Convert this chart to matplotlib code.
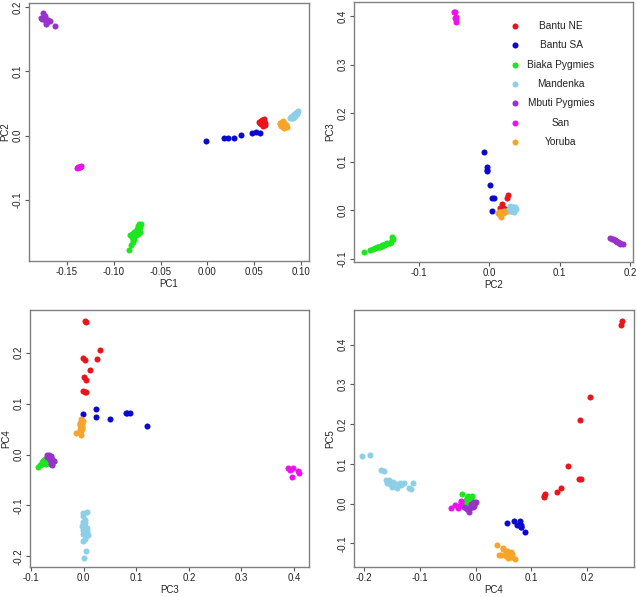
import matplotlib
matplotlib.use("Agg")
import matplotlib.pyplot as plt

plt.rcParams['font.family'] = ['Liberation Sans', 'DejaVu Sans']
plt.rcParams['axes.unicode_minus'] = False

populations = ["Bantu NE", "Bantu SA", "Biaka Pygmies", "Mandenka",
               "Mbuti Pygmies", "San", "Yoruba"]
pop_colors = ["#e8161a", "#0a0acd", "#1ee61e", "#8ecfe8",
              "#9932cc", "#ee10ee", "#f7a42a"]

# PC scores per population, one entry per individual
bantu_ne_pc1 = [0.057, 0.059, 0.060, 0.058, 0.056, 0.061, 0.057, 0.060, 0.062, 0.055, 0.059, 0.058]
bantu_ne_pc2 = [0.022, 0.018, 0.026, 0.025, 0.020, 0.016, 0.018, 0.023, 0.019, 0.021, 0.015, 0.020]
bantu_ne_pc3 = [0.002, 0.005, 0.032, 0.026, -0.001, 0.003, 0.012, 0.001, 0.004, -0.001, 0.005, 0.003]
bantu_ne_pc4 = [0.262, 0.261, 0.205, 0.187, 0.189, 0.185, 0.166, 0.153, 0.146, 0.124, 0.122, 0.122]
bantu_ne_pc5 = [0.460, 0.450, 0.267, 0.210, 0.062, 0.061, 0.095, 0.039, 0.029, 0.025, 0.016, 0.018]

bantu_sa_pc1 = [-0.002, 0.018, 0.022, 0.028, 0.036, 0.048, 0.052, 0.056]
bantu_sa_pc2 = [-0.008, -0.003, -0.003, -0.003, 0.001, 0.004, 0.006, 0.004]
bantu_sa_pc3 = [0.120, 0.088, 0.083, 0.080, 0.051, 0.024, 0.024, -0.002]
bantu_sa_pc4 = [0.056, 0.081, 0.082, 0.082, 0.069, 0.074, 0.089, 0.079]
bantu_sa_pc5 = [-0.049, -0.058, -0.055, -0.060, -0.043, -0.055, -0.072, -0.045]

biaka_pc1 = [-0.084, -0.082, -0.079, -0.080, -0.078, -0.081, -0.079, -0.083, -0.076, -0.081,
             -0.074, -0.078, -0.072, -0.076, -0.073, -0.075, -0.072, -0.074, -0.071, -0.073]
biaka_pc2 = [-0.178, -0.170, -0.165, -0.162, -0.160, -0.158, -0.157, -0.155, -0.154, -0.152,
             -0.152, -0.150, -0.150, -0.148, -0.147, -0.145, -0.142, -0.140, -0.138, -0.137]
biaka_pc3 = [-0.087, -0.083, -0.080, -0.079, -0.077, -0.076, -0.076, -0.075, -0.074, -0.073,
             -0.072, -0.072, -0.071, -0.070, -0.069, -0.068, -0.067, -0.066, -0.056, -0.060]
biaka_pc4 = [-0.024, -0.020, -0.018, -0.015, -0.013, -0.016, -0.012, -0.010, -0.014, -0.009,
             -0.011, -0.018, -0.008, -0.012, -0.006, -0.015, -0.010, -0.013, -0.012, -0.019]
biaka_pc5 = [0.025, 0.005, 0.010, 0.015, 0.000, 0.008, 0.012, 0.004, 0.018, 0.006,
             0.010, 0.002, 0.014, 0.008, 0.020, 0.003, 0.011, 0.007, 0.016, 0.001]

mandenka_pc1 = [0.088, 0.089, 0.090, 0.090, 0.091, 0.092, 0.092, 0.093, 0.093, 0.094,
                0.094, 0.095, 0.095, 0.096, 0.096, 0.097, 0.091, 0.094, 0.096]
mandenka_pc2 = [0.027, 0.029, 0.028, 0.031, 0.030, 0.029, 0.032, 0.031, 0.033, 0.032,
                0.034, 0.033, 0.035, 0.036, 0.034, 0.038, 0.027, 0.030, 0.037]
mandenka_pc3 = [0.000, 0.005, -0.001, 0.002, 0.004, 0.008, -0.002, 0.003, 0.007, -0.001,
                0.006, 0.002, -0.003, 0.003, -0.002, 0.002, -0.002, -0.001, 0.006]
mandenka_pc4 = [-0.203, -0.190, -0.170, -0.165, -0.160, -0.158, -0.155, -0.153, -0.150, -0.148,
                -0.145, -0.142, -0.140, -0.135, -0.133, -0.128, -0.120, -0.115, -0.112]
mandenka_pc5 = [0.120, 0.122, 0.085, 0.081, 0.060, 0.053, 0.060, 0.050, 0.042, 0.055,
                0.045, 0.050, 0.040, 0.053, 0.046, 0.052, 0.040, 0.037, 0.052]

mbuti_pc1 = [-0.178, -0.176, -0.175, -0.174, -0.172, -0.172, -0.170, -0.168, -0.163, -0.177,
             -0.173, -0.171, -0.174]
mbuti_pc2 = [0.183, 0.190, 0.185, 0.180, 0.178, 0.174, 0.180, 0.178, 0.171, 0.181,
             0.183, 0.176, 0.186]
mbuti_pc3 = [-0.066, -0.070, -0.068, -0.064, -0.062, -0.060, -0.063, -0.061, -0.057, -0.065,
             -0.066, -0.060, -0.069]
mbuti_pc4 = [-0.002, 0.000, -0.005, -0.010, -0.018, -0.008, -0.003, -0.015, -0.012, -0.006,
             -0.001, -0.020, -0.004]
mbuti_pc5 = [-0.005, 0.003, -0.008, -0.012, -0.010, 0.000, 0.004, -0.013, -0.020, -0.003,
             0.002, -0.008, -0.006]

san_pc1 = [-0.139, -0.137, -0.136, -0.135, -0.138, -0.136]
san_pc2 = [-0.050, -0.049, -0.048, -0.047, -0.049, -0.048]
san_pc3 = [0.408, 0.397, 0.393, 0.388, 0.409, 0.398]
san_pc4 = [-0.032, -0.044, -0.030, -0.027, -0.037, -0.027]
san_pc5 = [-0.010, -0.010, -0.006, 0.004, -0.003, 0.006]

yoruba_pc1 = [0.078, 0.080, 0.082, 0.084, 0.079, 0.081, 0.083, 0.085, 0.077, 0.080,
              0.082, 0.084, 0.079, 0.081, 0.083, 0.080]
yoruba_pc2 = [0.018, 0.020, 0.019, 0.017, 0.015, 0.014, 0.016, 0.013, 0.019, 0.021,
              0.012, 0.016, 0.018, 0.022, 0.015, 0.017]
yoruba_pc3 = [-0.005, -0.002, -0.004, -0.006, -0.003, -0.007, -0.005, -0.004, -0.006, -0.003,
              -0.005, -0.015, -0.005, -0.004, -0.006, -0.003]
yoruba_pc4 = [0.070, 0.066, 0.065, 0.062, 0.060, 0.058, 0.057, 0.054, 0.050, 0.050,
              0.046, 0.042, 0.038, 0.063, 0.059, 0.055]
yoruba_pc5 = [-0.140, -0.135, -0.128, -0.135, -0.130, -0.138, -0.120, -0.125, -0.115, -0.112,
              -0.130, -0.130, -0.105, -0.122, -0.127, -0.133]

pcs = {
    "Bantu NE": [bantu_ne_pc1, bantu_ne_pc2, bantu_ne_pc3, bantu_ne_pc4, bantu_ne_pc5],
    "Bantu SA": [bantu_sa_pc1, bantu_sa_pc2, bantu_sa_pc3, bantu_sa_pc4, bantu_sa_pc5],
    "Biaka Pygmies": [biaka_pc1, biaka_pc2, biaka_pc3, biaka_pc4, biaka_pc5],
    "Mandenka": [mandenka_pc1, mandenka_pc2, mandenka_pc3, mandenka_pc4, mandenka_pc5],
    "Mbuti Pygmies": [mbuti_pc1, mbuti_pc2, mbuti_pc3, mbuti_pc4, mbuti_pc5],
    "San": [san_pc1, san_pc2, san_pc3, san_pc4, san_pc5],
    "Yoruba": [yoruba_pc1, yoruba_pc2, yoruba_pc3, yoruba_pc4, yoruba_pc5],
}

# (x pc, y pc, axes rect, xlim, ylim, xticks, yticks, x fmt)
panels = [
    (0, 1, [0.0455, 0.5628, 0.4396, 0.4322], (-0.1906, 0.1085), (-0.1947, 0.206),
     [-0.15, -0.10, -0.05, 0.00, 0.05, 0.10], [-0.1, 0.0, 0.1, 0.2], "%.2f"),
    (1, 2, [0.5557, 0.5611, 0.4380, 0.4355], (-0.1925, 0.204), (-0.107, 0.429),
     [-0.1, 0.0, 0.1, 0.2], [-0.1, 0.0, 0.1, 0.2, 0.3, 0.4], "%.1f"),
    (2, 3, [0.0471, 0.0500, 0.4380, 0.4310], (-0.102, 0.4285), (-0.221, 0.284),
     [-0.1, 0.0, 0.1, 0.2, 0.3, 0.4], [-0.2, -0.1, 0.0, 0.1, 0.2], "%.1f"),
    (3, 4, [0.5557, 0.0500, 0.4396, 0.4310], (-0.218, 0.284), (-0.16, 0.4875),
     [-0.2, -0.1, 0.0, 0.1, 0.2], [-0.1, 0.0, 0.1, 0.2, 0.3, 0.4], "%.1f"),
]

fig = plt.figure(figsize=(6.37, 5.97), dpi=100)

axes = []
for xi, yi, rect, xl, yl, xt, yt, xfmt in panels:
    ax = fig.add_axes(rect)
    for pop, col in zip(populations, pop_colors):
        ax.scatter(pcs[pop][xi], pcs[pop][yi], s=19, color=col, linewidths=0, zorder=3)
    ax.set_xlim(xl)
    ax.set_ylim(yl)
    ax.set_xticks(xt)
    ax.set_xticklabels([xfmt % v for v in xt])
    ax.set_yticks(yt)
    ax.set_yticklabels(["%.1f" % v for v in yt], rotation=90, va="center")
    ax.tick_params(labelsize=7, length=3, width=0.8, color="#555555", pad=1.5,
                   labelcolor="#222222")
    for sp in ax.spines.values():
        sp.set_color("#808080")
        sp.set_linewidth(1.0)
    ax.set_xlabel("PC%d" % (xi + 1), fontsize=7, color="#222222", labelpad=1.5)
    ax.set_ylabel("PC%d" % (yi + 1), fontsize=7, color="#222222", labelpad=2)
    axes.append(ax)

# legend without box, in the PC2/PC3 panel
leg_ax = axes[1]
for i, (pop, col) in enumerate(zip(populations, pop_colors)):
    y = 0.908 - i * 0.0744
    leg_ax.scatter([0.577], [y], s=19, color=col, linewidths=0,
                   transform=leg_ax.transAxes, zorder=4)
    leg_ax.text(0.742, y, pop, transform=leg_ax.transAxes, fontsize=7.3,
                ha="center", va="center", color="#222222")

fig.savefig("out.png", dpi=100)
